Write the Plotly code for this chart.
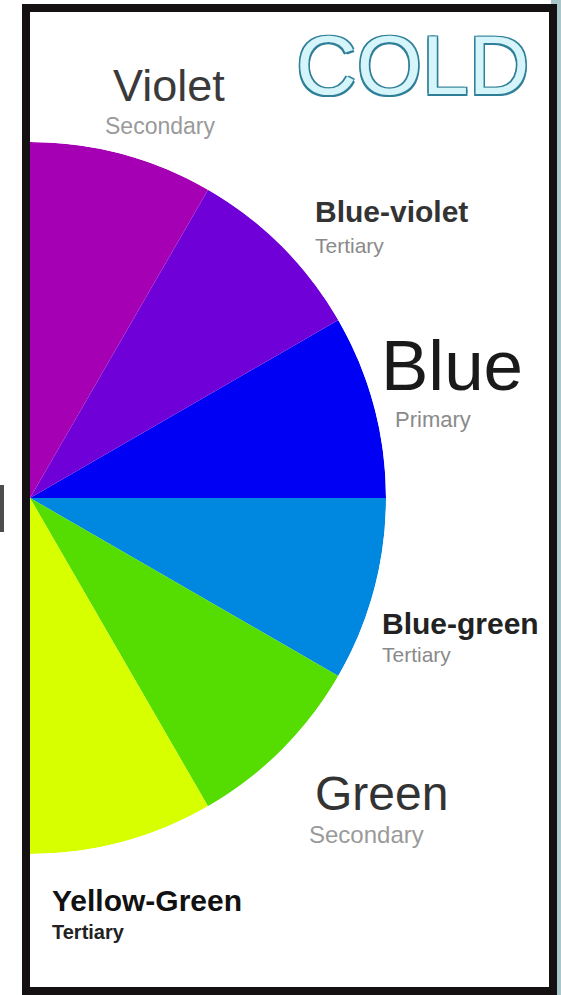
import plotly.graph_objects as go
import numpy as np

W, H = 561, 995

# ---- data ----
slice_names = ["Blue", "Blue-violet", "Violet", "Blue-green", "Green", "Yellow-Green"]
slice_kind = ["Primary", "Tertiary", "Secondary", "Tertiary", "Secondary", "Tertiary"]
# arc sizes in degrees; first three go counter-clockwise from east, last three clockwise
slice_arc = [30, 30, 30, 30, 30, 30]
slice_colors = ["#0000f4", "#7000d8", "#a500b4", "#0087e0", "#55dc00", "#d8ff00"]
title_text = "COLD"

# angular positions derived from arc sizes
upper = np.cumsum([0] + slice_arc[:3])
lower = -np.cumsum([0] + slice_arc[3:])
theta = list((upper[:-1] + upper[1:]) / 2) + list((lower[:-1] + lower[1:]) / 2)
widths = slice_arc

fig = go.Figure()
fig.add_trace(go.Barpolar(
    r=[1] * len(slice_names),
    theta=theta,
    width=widths,
    marker=dict(color=slice_colors, line=dict(width=0)),
    text=slice_names,
    hoverinfo="text",
    showlegend=False,
))

def px(x):
    return x / W

def py(y):
    return 1 - y / H

cx, cy, R = 30, 498, 356

fig.update_layout(
    width=W, height=H,
    margin=dict(l=0, r=0, t=0, b=0),
    paper_bgcolor="white",
    plot_bgcolor="white",
    polar=dict(
        domain=dict(x=[px(cx), px(cx + R)], y=[py(cy + R), py(cy - R)]),
        sector=[-90, 90],
        bgcolor="rgba(0,0,0,0)",
        bargap=0,
        radialaxis=dict(range=[0, 1], visible=False, showgrid=False),
        angularaxis=dict(visible=False, showgrid=False, showline=False, ticks=""),
    ),
)

# frame
shapes = [
    dict(type="rect", x0=px(551), x1=1, y0=0, y1=1, fillcolor="#a9c6cb", line_width=0, layer="below"),
    dict(type="rect", x0=px(22), x1=px(557), y0=0, y1=py(4), fillcolor="#151112", line_width=0, layer="below"),
    dict(type="rect", x0=px(30), x1=px(549), y0=py(987), y1=py(12), fillcolor="white", line_width=0, layer="below"),
    dict(type="rect", x0=0, x1=px(4), y0=py(532), y1=py(485), fillcolor="#4d4d4d", line_width=0, layer="below"),
]
fig.update_layout(shapes=shapes)

FONT = "Liberation Sans, Arial, sans-serif"

def label(text, x, y, size, color, bold=False, xanchor="left", shadow=None):
    f = dict(family=FONT, size=size, color=color, weight="bold" if bold else "normal")
    if shadow:
        f["shadow"] = shadow
    fig.add_annotation(text=text, x=px(x), y=py(y), xref="paper", yref="paper",
                       xanchor=xanchor, yanchor="middle", showarrow=False, font=f)

# title
outline = "#2f7f98"
label(title_text, 412, 65, 84, "#d6f5fa", xanchor="center",
      shadow=f"1.5px 1.5px 0 {outline}, -1.5px -1.5px 0 {outline}, 1.5px -1.5px 0 {outline}, -1.5px 1.5px 0 {outline}")

label(slice_names[2], 111, 85, 45, "#3a3a3a")
label(slice_kind[2], 103, 126, 23, "#9a9a9a")

label(slice_names[1], 313, 211, 30, "#333333", bold=True)
label(slice_kind[1], 313, 245, 21, "#8a8a8a")

label(slice_names[0], 379, 366, 71, "#1a1a1a")
label(slice_kind[0], 393, 419, 22, "#8a8a8a")

label(slice_names[3], 380, 623, 30, "#222222", bold=True)
label(slice_kind[3], 380, 654, 21, "#8a8a8a")

label(slice_names[4], 313, 793, 48, "#333333")
label(slice_kind[4], 307, 834, 24, "#9a9a9a")

label(slice_names[5], 50, 900, 30, "#111111", bold=True)
label(slice_kind[5], 50, 932, 20, "#222222", bold=True)

fig.write_html("out.html", config={"displayModeBar": False},
               post_script="document.body.style.margin='0';")
